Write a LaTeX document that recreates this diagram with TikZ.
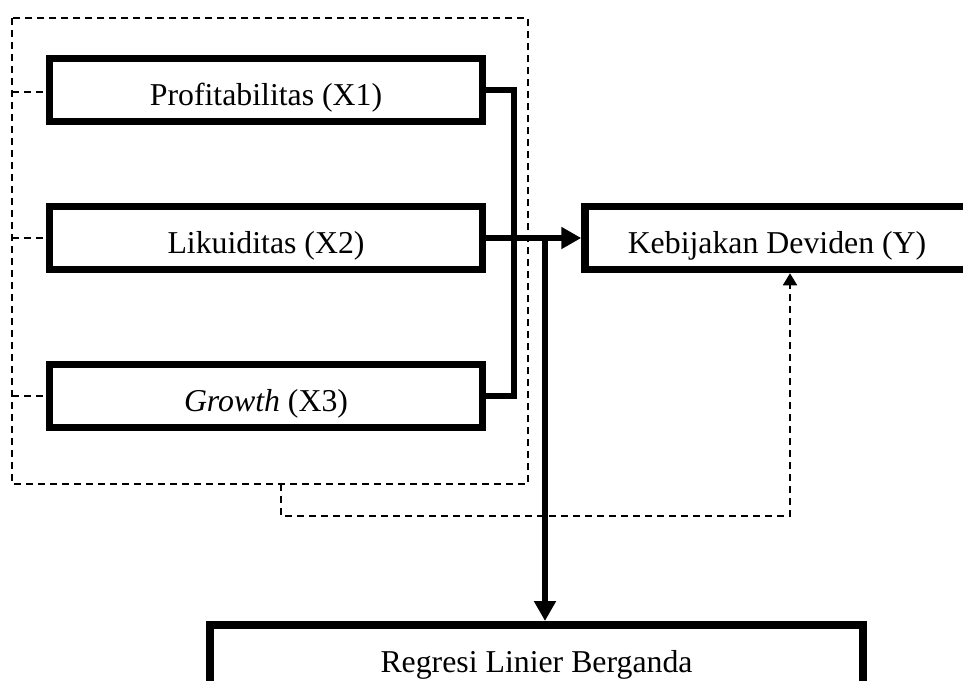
\documentclass[tikz,border=0pt]{standalone}
\usepackage{fontspec}
\setmainfont{Liberation Serif}
\usetikzlibrary{arrows.meta}
\begin{document}
\begin{tikzpicture}[x=1pt,y=-1pt,
  varbox/.style={draw=black,line width=7.5pt,minimum height=63pt,inner sep=0pt,
    text height=30pt,text depth=0pt,
    font=\fontsize{31.8}{38}\selectfont,fill=white},
  thickline/.style={line width=6pt},
  dashline/.style={line width=1.7pt,dash pattern=on 7pt off 5pt},
  bigarrow/.style={-{Triangle[length=20pt,width=21pt]}},
  smallarrow/.style={-{Triangle[length=12pt,width=14pt]}}]
\useasboundingbox (0,0) rectangle (963,680);
% dashed frame
\draw[dashline] (12,18) rectangle (528,484);
\node[varbox,minimum width=433pt] (x1) at (266,90) {Profitabilitas (X1)};
\node[varbox,minimum width=433pt] (x2) at (266,238) {Likuiditas (X2)};
\node[varbox,minimum width=433pt] (x3) at (266,396) {\textit{Growth} (X3)};
\node[varbox,minimum width=384pt] (y) at (777,238) {Kebijakan Deviden (Y)};
\node[varbox,minimum width=653pt,minimum height=120pt,anchor=north] (r) at (536.5,621) {};
\node[font=\fontsize{31.8}{38}\selectfont,anchor=center] (rt) at (536.5,665) {Regresi Linier Berganda};
% dashed ticks
\coordinate (l1) at (12,92);
\coordinate (l2) at (12,238);
\coordinate (l3) at (12,396);
\draw[dashline] (l1) -- (l1 -| x1.west);
\draw[dashline] (l2) -- (x2.west);
\draw[dashline] (l3) -- (x3.west);
% bracket
\draw[thickline] (x1.east) -- ++(28,0) |- (x3.east);
% arrow to Y
\draw[thickline,bigarrow] (x2.east) -- (y.west);
% arrow down to regression
\coordinate (j) at (545,238);
\draw[thickline,bigarrow] (j) -- (j |- r.north);
% dashed feedback
\coordinate (d1) at (281,484);
\coordinate (d2) at (281,516);
\coordinate (d3) at (790,516);
\draw[dashline,smallarrow] (d1) -- (d2) -- (d3) -- (d3 |- y.south);
\end{tikzpicture}
\end{document}
